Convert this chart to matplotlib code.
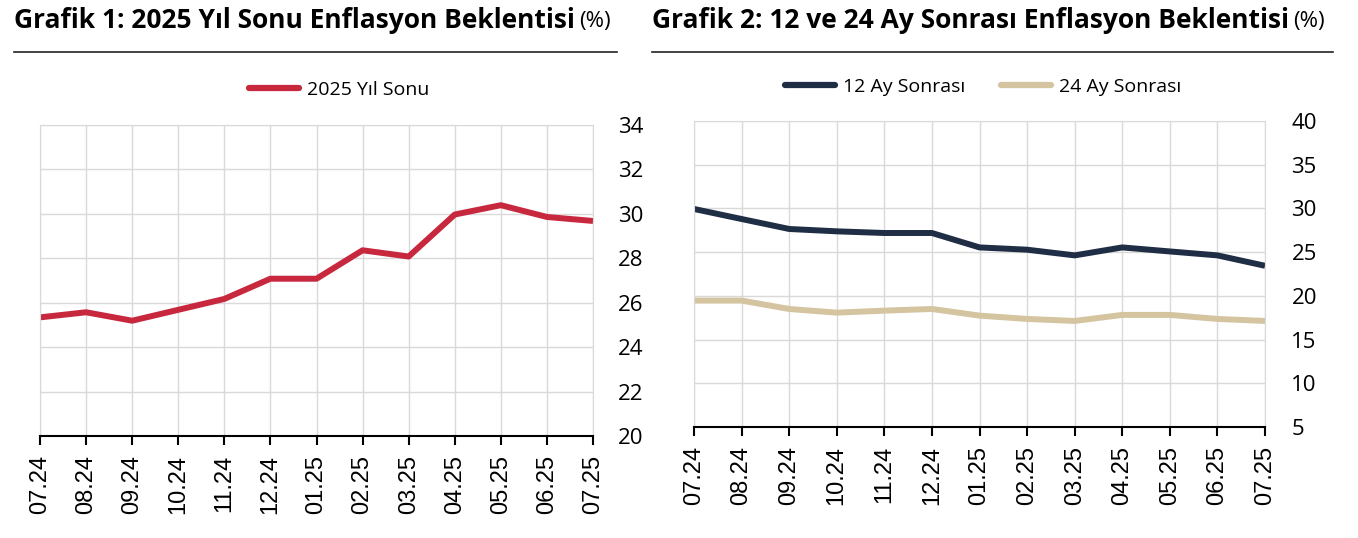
import matplotlib
matplotlib.use("Agg")
import matplotlib.pyplot as plt
from matplotlib.lines import Line2D

plt.rcParams['font.family'] = ['Open Sans', 'DejaVu Sans']

months = ['07.24', '08.24', '09.24', '10.24', '11.24', '12.24', '01.25',
          '02.25', '03.25', '04.25', '05.25', '06.25', '07.25']

# Grafik 1: 2025 year-end expectation
yil_sonu_2025 = [25.34, 25.57, 25.19, 25.68, 26.17, 27.08, 27.08,
                 28.36, 28.08, 29.97, 30.39, 29.86, 29.68]

# Grafik 2: 12 and 24 months ahead
ay12 = [29.94, 28.79, 27.65, 27.38, 27.19, 27.19, 25.54,
        25.28, 24.63, 25.54, 25.08, 24.63, 23.44]
ay24 = [19.46, 19.46, 18.50, 18.08, 18.31, 18.50, 17.74,
        17.36, 17.13, 17.82, 17.82, 17.36, 17.13]

RED = '#C8283E'
NAVY = '#1F2D45'
BEIGE = '#D4C4A0'
GRID = '#d9d9d9'

W, H = 1358, 538
fig = plt.figure(figsize=(W / 100, H / 100), dpi=100)


def px_axes(x0, y0, x1, y1):
    return fig.add_axes([x0 / W, 1 - y1 / H, (x1 - x0) / W, (y1 - y0) / H])


def style_axes(ax, ylim, yticks, pad):
    x = range(len(months))
    ax.set_xlim(0, len(months) - 1)
    ax.set_ylim(*ylim)
    ax.set_xticks(list(x))
    ax.set_xticklabels(months, rotation=90, fontsize=17,
                       family=['Liberation Sans', 'DejaVu Sans'])
    ax.set_yticks(yticks)
    ax.yaxis.tick_right()
    ax.tick_params(axis='y', length=0, pad=pad, labelsize=16)
    ax.tick_params(axis='x', length=6.5, width=1.5, color='black', pad=7)
    ax.grid(True, color=GRID, lw=1)
    ax.set_axisbelow(True)
    for s in ['top', 'left', 'right']:
        ax.spines[s].set_color(GRID)
    ax.spines['bottom'].set_color('black')
    ax.spines['bottom'].set_linewidth(1.5)


def legend_handle(color):
    return Line2D([], [], color=color, lw=4.5, solid_capstyle='round')


# left chart
ax1 = px_axes(40, 125, 593, 436)
ax1.plot(range(len(months)), yil_sonu_2025, color=RED, lw=4.3,
         solid_capstyle='butt')
style_axes(ax1, (20, 34), range(20, 35, 2), 18)
ax1.legend([legend_handle(RED)], ['2025 Yıl Sonu'], loc='center',
           bbox_to_anchor=(339 / W, 1 - 90 / H),
           bbox_transform=fig.transFigure, frameon=False, fontsize=14,
           handlelength=2.6, handletextpad=0.4)

# right chart
ax2 = px_axes(694, 121, 1265, 427)
ax2.plot(range(len(months)), ay12, color=NAVY, lw=4.3, solid_capstyle='butt')
ax2.plot(range(len(months)), ay24, color=BEIGE, lw=4.3, solid_capstyle='butt')
style_axes(ax2, (5, 40), range(5, 41, 5), 19)
ax2.legend([legend_handle(NAVY), legend_handle(BEIGE)],
           ['12 Ay Sonrası', '24 Ay Sonrası'], loc='center',
           bbox_to_anchor=(983 / W, 1 - 87 / H),
           bbox_transform=fig.transFigure, frameon=False, fontsize=14,
           handlelength=2.6, handletextpad=0.4, ncol=2, columnspacing=1.8)

# titles with separator lines
titles = [('Grafik 1: 2025 Yıl Sonu Enflasyon Beklentisi', 14, 14, 617),
          ('Grafik 2: 12 ve 24 Ay Sonrası Enflasyon Beklentisi', 652, 652, 1333)]
fig.canvas.draw()
renderer = fig.canvas.get_renderer()
for text, tx, lx0, lx1 in titles:
    t = fig.text(tx / W, 1 - 20 / H, text, fontsize=19, fontweight='bold',
                 va='center', ha='left')
    bb = t.get_window_extent(renderer)
    fig.text(bb.x1 / W + 4 / W, 1 - 21 / H, '(%)', fontsize=16,
             va='center', ha='left')
    fig.add_artist(Line2D([lx0 / W, lx1 / W], [1 - 52 / H, 1 - 52 / H],
                          color='#222222', lw=1.2))

fig.savefig('out.png', dpi=100)
